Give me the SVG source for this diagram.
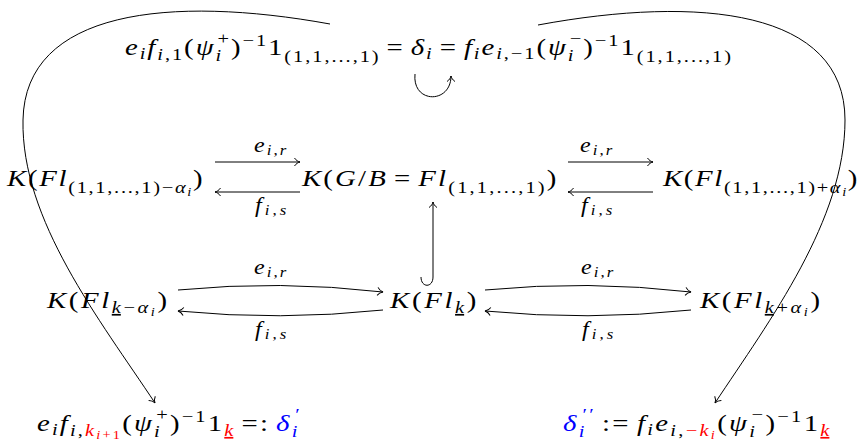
<svg xmlns="http://www.w3.org/2000/svg" width="860" height="442" viewBox="0 0 860 442">
<style>
text { font-family: "Liberation Serif", "Times New Roman", serif; font-size: 24px; fill: #000; }
.it { font-style: italic; }
.up { font-style: normal; }
.s { font-size: 17px; }
.ss { font-size: 12px; }
.l { font-size: 20px; }
.ls { font-size: 14px; }
.r { fill: #ff0000; }
.b { fill: #0000ff; }
.u { text-decoration: underline; }
.c { fill: none; stroke: #000; stroke-width: 1; }
</style>
<defs>
<marker id="ah" viewBox="-7 -6 8 12" refX="0" refY="0" markerWidth="8" markerHeight="12" markerUnits="userSpaceOnUse" orient="auto" overflow="visible">
<path d="M-5.5,-4 C-4,-1.6 -1.6,-0.4 0,0 C-1.6,0.4 -4,1.6 -5.5,4" fill="none" stroke="#000" stroke-width="1"/>
</marker>
</defs>

<g id="connectors">
<path id="e-loop" class="c" d="M415 74 C412 104 451 104 451 76" marker-end="url(#ah)"/>
<path id="e-left-curve" class="c" d="M330 24 C170 -5 25 10 23 120 C21 220 100 320 155 403" marker-end="url(#ah)"/>
<path id="e-right-curve" class="c" d="M538 25 C700 -5 845 10 845 120 C845 220 770 320 715 403" marker-end="url(#ah)"/>
<path id="e-hook" class="c" d="M421 277 C421 288 433 288 433 277 L433 202" marker-end="url(#ah)"/>
<g id="e-r2-l-top"><path class="c" d="M215 162 L300 162" marker-end="url(#ah)"/><text class="l" transform="translate(254,152) scale(1.2,1)" textLength="27" lengthAdjust="spacing"><tspan class="it">e</tspan><tspan class="ls" y="3"><tspan class="it">i</tspan>,<tspan class="it">r</tspan></tspan></text></g>
<g id="e-r2-l-bot"><path class="c" d="M300 192 L215 192" marker-end="url(#ah)"/><text class="l" transform="translate(255,212) scale(1.2,1)" textLength="26" lengthAdjust="spacing"><tspan class="it">f</tspan><tspan class="ls" y="3"><tspan class="it">i</tspan>,<tspan class="it">s</tspan></tspan></text></g>
<g id="e-r2-r-top"><path class="c" d="M568 162 L653 162" marker-end="url(#ah)"/><text class="l" transform="translate(580,152) scale(1.2,1)" textLength="27" lengthAdjust="spacing"><tspan class="it">e</tspan><tspan class="ls" y="3"><tspan class="it">i</tspan>,<tspan class="it">r</tspan></tspan></text></g>
<g id="e-r2-r-bot"><path class="c" d="M653 192 L568 192" marker-end="url(#ah)"/><text class="l" transform="translate(581,212) scale(1.2,1)" textLength="26" lengthAdjust="spacing"><tspan class="it">f</tspan><tspan class="ls" y="3"><tspan class="it">i</tspan>,<tspan class="it">s</tspan></tspan></text></g>
<g id="e-r3-l-top"><path class="c" d="M178 290 Q280 280 383 292" marker-end="url(#ah)"/><text class="l" transform="translate(254,274) scale(1.2,1)" textLength="27" lengthAdjust="spacing"><tspan class="it">e</tspan><tspan class="ls" y="3"><tspan class="it">i</tspan>,<tspan class="it">r</tspan></tspan></text></g>
<g id="e-r3-l-bot"><path class="c" d="M383 310 Q280 321 178 311" marker-end="url(#ah)"/><text class="l" transform="translate(255,336) scale(1.2,1)" textLength="26" lengthAdjust="spacing"><tspan class="it">f</tspan><tspan class="ls" y="3"><tspan class="it">i</tspan>,<tspan class="it">s</tspan></tspan></text></g>
<g id="e-r3-r-top"><path class="c" d="M485 290 Q588 280 691 292" marker-end="url(#ah)"/><text class="l" transform="translate(581,274) scale(1.2,1)" textLength="27" lengthAdjust="spacing"><tspan class="it">e</tspan><tspan class="ls" y="3"><tspan class="it">i</tspan>,<tspan class="it">r</tspan></tspan></text></g>
<g id="e-r3-r-bot"><path class="c" d="M691 310 Q588 321 485 311" marker-end="url(#ah)"/><text class="l" transform="translate(582,336) scale(1.2,1)" textLength="26" lengthAdjust="spacing"><tspan class="it">f</tspan><tspan class="ls" y="3"><tspan class="it">i</tspan>,<tspan class="it">s</tspan></tspan></text></g>
</g>

<g id="n-top">
<text transform="translate(125,55) scale(1.2,1)" textLength="505" lengthAdjust="spacing"><tspan class="it">e</tspan><tspan class="s it" y="4">i</tspan><tspan class="it" y="0">f</tspan><tspan class="s" y="5"><tspan class="it">i</tspan>,1</tspan><tspan y="0">(</tspan><tspan class="it">ψ</tspan><tspan class="s it" y="6">i</tspan><tspan class="s" y="-11" dx="-4.7">+</tspan><tspan y="0">)</tspan><tspan class="s" y="-9">−1</tspan><tspan y="0">1</tspan><tspan class="s" y="7">(1,1,...,1)</tspan><tspan y="0" dx="5">=</tspan><tspan class="it" dx="5">δ</tspan><tspan class="s it" y="4">i</tspan><tspan y="0" dx="5">=</tspan><tspan class="it" dx="5">f</tspan><tspan class="s it" y="4">i</tspan><tspan class="it" y="0">e</tspan><tspan class="s" y="4"><tspan class="it">i</tspan>,−1</tspan><tspan y="0">(</tspan><tspan class="it">ψ</tspan><tspan class="s it" y="6">i</tspan><tspan class="s" y="-11" dx="-4.7">−</tspan><tspan y="0">)</tspan><tspan class="s" y="-9">−1</tspan><tspan y="0">1</tspan><tspan class="s" y="7">(1,1,...,1)</tspan></text>
</g>

<g id="n-r2-left">
<text transform="translate(7,186) scale(1.2,1)" textLength="163" lengthAdjust="spacing"><tspan class="it">K</tspan><tspan>(</tspan><tspan class="it">Fl</tspan><tspan class="s" y="7">(1,1,...,1)−</tspan><tspan class="s it">α</tspan><tspan class="ss it" y="10">i</tspan><tspan y="0">)</tspan></text>
</g>

<g id="n-r2-mid">
<text transform="translate(302,186) scale(1.2,1)" textLength="212" lengthAdjust="spacing"><tspan class="it">K</tspan><tspan>(</tspan><tspan class="it">G</tspan><tspan>/</tspan><tspan class="it">B</tspan><tspan dx="5">=</tspan><tspan class="it" dx="5">Fl</tspan><tspan class="s" y="7">(1,1,...,1)</tspan><tspan y="0">)</tspan></text>
</g>

<g id="n-r2-right">
<text transform="translate(663,186) scale(1.2,1)" textLength="162" lengthAdjust="spacing"><tspan class="it">K</tspan><tspan>(</tspan><tspan class="it">Fl</tspan><tspan class="s" y="7">(1,1,...,1)+</tspan><tspan class="s it">α</tspan><tspan class="ss it" y="10">i</tspan><tspan y="0">)</tspan></text>
</g>

<g id="n-r3-left">
<text transform="translate(47,308) scale(1.2,1)" textLength="100" lengthAdjust="spacing"><tspan class="it">K</tspan><tspan>(</tspan><tspan class="it">Fl</tspan><tspan class="s it u" y="5">k</tspan><tspan class="s">−</tspan><tspan class="s it">α</tspan><tspan class="ss it" y="8">i</tspan><tspan y="0">)</tspan></text>
</g>

<g id="n-r3-mid">
<text transform="translate(390,308) scale(1.2,1)" textLength="72" lengthAdjust="spacing"><tspan class="it">K</tspan><tspan>(</tspan><tspan class="it">Fl</tspan><tspan class="s it u" y="5">k</tspan><tspan y="0">)</tspan></text>
</g>

<g id="n-r3-right">
<text transform="translate(700,308) scale(1.2,1)" textLength="100" lengthAdjust="spacing"><tspan class="it">K</tspan><tspan>(</tspan><tspan class="it">Fl</tspan><tspan class="s it u" y="5">k</tspan><tspan class="s">+</tspan><tspan class="s it">α</tspan><tspan class="ss it" y="8">i</tspan><tspan y="0">)</tspan></text>
</g>

<g id="n-bottom-left">
<text transform="translate(37,431) scale(1.2,1)" textLength="219" lengthAdjust="spacing"><tspan class="it">e</tspan><tspan class="s it" y="4">i</tspan><tspan class="it" y="0">f</tspan><tspan class="s" y="5"><tspan class="it">i</tspan>,</tspan><tspan class="s it r">k</tspan><tspan class="ss r" y="8"><tspan class="it">i</tspan>+1</tspan><tspan y="0">(</tspan><tspan class="it">ψ</tspan><tspan class="s it" y="6">i</tspan><tspan class="s" y="-11" dx="-4.7">+</tspan><tspan y="0">)</tspan><tspan class="s" y="-9">−1</tspan><tspan y="0">1</tspan><tspan class="s it r u" y="5">k</tspan><tspan y="0" dx="5">=:</tspan><tspan class="it b" dx="5">δ</tspan><tspan class="s it b" y="6">i</tspan><tspan class="s b" y="-11" dx="-3.5">′</tspan></text>
</g>

<g id="n-bottom-right">
<text transform="translate(563,431) scale(1.2,1)" textLength="222" lengthAdjust="spacing"><tspan class="it b">δ</tspan><tspan class="s it b" y="6">i</tspan><tspan class="s b" y="-11" dx="-3.5">′′</tspan><tspan y="0" dx="5">:=</tspan><tspan class="it" dx="5">f</tspan><tspan class="s it" y="4">i</tspan><tspan class="it" y="0">e</tspan><tspan class="s" y="5"><tspan class="it">i</tspan>,</tspan><tspan class="s r">−<tspan class="it">k</tspan></tspan><tspan class="ss it r" y="8">i</tspan><tspan y="0">(</tspan><tspan class="it">ψ</tspan><tspan class="s it" y="6">i</tspan><tspan class="s" y="-11" dx="-4.7">−</tspan><tspan y="0">)</tspan><tspan class="s" y="-9">−1</tspan><tspan y="0">1</tspan><tspan class="s it r u" y="5">k</tspan></text>
</g>
</svg>
